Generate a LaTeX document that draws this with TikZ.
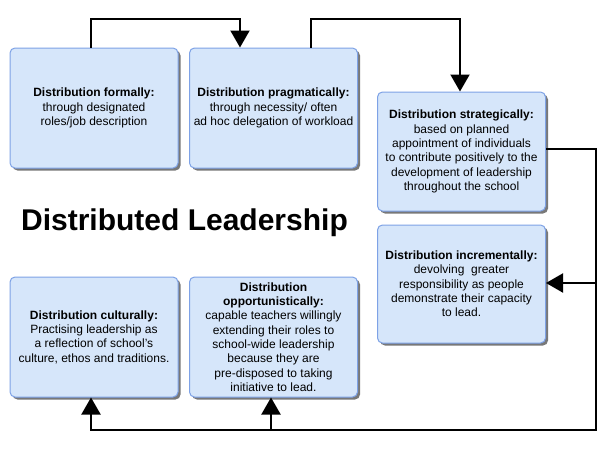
\documentclass[tikz,border=0pt]{standalone}
\usepackage{fontspec}
\setmainfont{Liberation Sans}
\usetikzlibrary{arrows.meta,shadows}
\definecolor{boxfill}{HTML}{D6E6FA}
\definecolor{boxline}{HTML}{7EA2E6}
\tikzset{
  dbox/.style={draw=boxline, line width=1pt, fill=boxfill, rounded corners=5pt,
    minimum width=168pt, minimum height=120pt, inner sep=1pt, align=center,
    font=\fontsize{12}{14.3}\selectfont,
    drop shadow={shadow xshift=2.5pt, shadow yshift=-2.5pt, fill=black!70, opacity=0.75}},
  conn/.style={line width=2pt, draw=black},
  tip/.style={-{Triangle[length=17pt,width=19pt]}}
}
\begin{document}
\begin{tikzpicture}[x=1pt,y=-1pt]
\useasboundingbox[fill=white] (0,0) rectangle (600,450);
\node[dbox] (b1) at (94,108) {\textbf{Distribution formally:}\\through designated\\roles/job description};
\node[dbox] (b2) at (273.5,108) {\textbf{Distribution pragmatically:}\\through necessity/ often\\ad hoc delegation of workload};
\node[dbox, minimum height=119pt] (b3) at (461.5,151.5) {\textbf{Distribution strategically:}\\based on planned\\appointment of individuals\\to contribute positively to the\\development of leadership\\throughout the school};
\node[dbox, minimum height=118pt] (b4) at (461.5,284) {\textbf{Distribution incrementally:}\\devolving\ \ greater\\responsibility as people\\demonstrate their capacity\\to lead.};
\node[dbox] (b5) at (94,337) {\textbf{Distribution culturally:}\\Practising leadership as\\a reflection of school’s\\culture, ethos and traditions.};
\node[dbox] (b6) at (273.5,337) {\textbf{Distribution}\\\textbf{opportunistically:}\\capable teachers willingly\\extending their roles to\\school-wide leadership\\because they are\\pre-disposed to taking\\initiative to lead.};
\node[anchor=base, font=\fontsize{30}{36}\selectfont\bfseries, inner sep=0pt] (title) at (184.5,230) {Distributed Leadership};
% connectors
\coordinate (k1) at (91,19);
\coordinate (k2) at (240,19);
\coordinate (k3) at (311,19);
\coordinate (k4) at (460,19);
\coordinate (r1) at (596,149);
\coordinate (r2) at (596,430);
\coordinate (r3) at (596,283);
\coordinate (l1) at (91,430);
\coordinate (l2) at (271,430);
\draw[conn, tip] (b1.north -| k1) -- (k1) -- (k2) -- (b2.north -| k2);
\draw[conn, tip] (b2.north -| k3) -- (k3) -- (k4) -- (b3.north -| k4);
\draw[conn, tip] (b3.east |- r1) -- (r1) -- (r2) -- (l1) -- (b5.south -| l1);
\draw[conn, tip] (l2) -- (b6.south -| l2);
\draw[conn, tip] (r3) -- (b4.east |- r3);
\end{tikzpicture}
\end{document}
